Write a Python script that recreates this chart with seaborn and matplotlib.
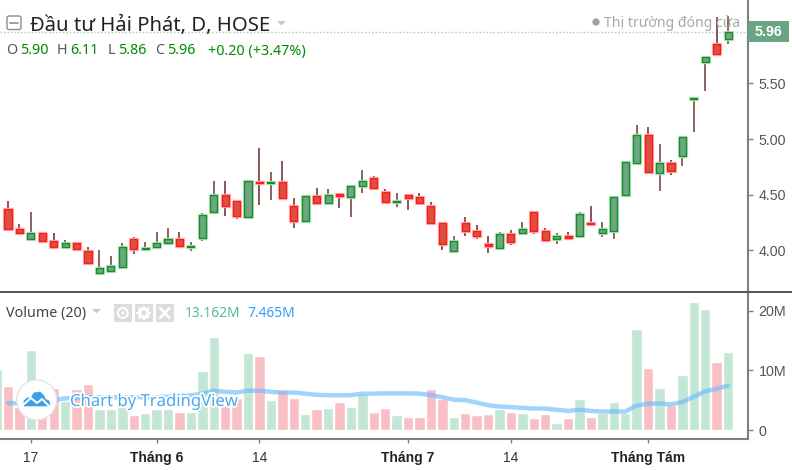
import numpy as np
import pandas as pd
import matplotlib
matplotlib.use("Agg")
import matplotlib.pyplot as plt
import matplotlib.patheffects as pe
from matplotlib.patches import Rectangle, Circle, FancyBboxPatch, Polygon
import seaborn as sns

# daily candles
OPENS = [4.37, 4.19, 4.10, 4.15, 4.08, 4.03, 4.06, 3.99, 3.79, 3.81, 3.85, 4.10, 4.01, 4.03, 4.06, 4.10,
         4.03, 4.11, 4.34, 4.50, 4.44, 4.30, 4.615, 4.60, 4.61, 4.40, 4.26, 4.49, 4.42, 4.505, 4.48, 4.58,
         4.65, 4.525, 4.43, 4.50, 4.48, 4.40, 4.24, 3.99, 4.24, 4.17, 4.05, 4.02, 4.14, 4.15, 4.34, 4.17,
         4.10, 4.13, 4.13, 4.24, 4.15, 4.17, 4.50, 4.78, 5.04, 4.69, 4.78, 4.85, 5.36, 5.69, 5.86, 5.90]
HIGHS = [4.44, 4.23, 4.34, 4.16, 4.15, 4.09, 4.07, 4.03, 4.00, 3.95, 4.06, 4.12, 4.07, 4.16, 4.20, 4.16,
         4.07, 4.33, 4.62, 4.62, 4.44, 4.62, 4.92, 4.70, 4.80, 4.47, 4.49, 4.56, 4.55, 4.505, 4.58, 4.72,
         4.67, 4.55, 4.51, 4.50, 4.51, 4.43, 4.25, 4.13, 4.30, 4.225, 4.13, 4.16, 4.18, 4.25, 4.34, 4.20,
         4.15, 4.16, 4.34, 4.396, 4.25, 4.486, 4.80, 5.126, 5.108, 4.955, 4.81, 5.027, 5.375, 5.74, 6.096, 6.11]
LOWS = [4.19, 4.14, 4.10, 4.08, 4.02, 4.02, 3.99, 3.87, 3.78, 3.81, 3.85, 3.96, 3.99, 4.02, 4.06, 4.03,
        3.99, 4.08, 4.34, 4.31, 4.28, 4.30, 4.41, 4.45, 4.47, 4.20, 4.26, 4.41, 4.42, 4.38, 4.30, 4.51,
        4.555, 4.435, 4.39, 4.36, 4.42, 4.24, 4.00, 3.99, 4.13, 4.10, 3.975, 4.02, 4.045, 4.15, 4.14, 4.085,
        4.057, 4.10, 4.13, 4.23, 4.114, 4.10, 4.50, 4.78, 4.70, 4.53, 4.68, 4.754, 5.06, 5.43, 5.766, 5.86]
CLOSES = [4.19, 4.15, 4.15, 4.08, 4.03, 4.06, 4.01, 3.88, 3.84, 3.86, 4.03, 4.01, 4.02, 4.06, 4.10, 4.04,
          4.04, 4.32, 4.50, 4.40, 4.31, 4.62, 4.60, 4.61, 4.47, 4.26, 4.49, 4.42, 4.50, 4.49, 4.58, 4.62,
          4.555, 4.435, 4.44, 4.465, 4.42, 4.24, 4.05, 4.08, 4.17, 4.13, 4.04, 4.14, 4.075, 4.185, 4.174, 4.09,
          4.13, 4.105, 4.324, 4.23, 4.186, 4.48, 4.796, 5.04, 4.70, 4.784, 4.71, 5.02, 5.372, 5.74, 5.766, 5.96]

# volume in millions, the first bar belongs to a candle just off the left edge
VOLUMES = [10.2, 7.3, 3.8, 13.35, 5.5, 7.0, 4.9, 6.8, 7.65, 3.6, 3.5, 3.9, 2.6, 2.85, 3.6, 3.6, 3.0, 3.0,
           9.95, 15.6, 5.5, 5.3, 12.9, 12.5, 5.0, 6.65, 5.4, 2.7, 3.5, 3.7, 4.75, 3.9, 6.0, 3.1, 3.7, 2.45,
           2.25, 2.25, 6.9, 5.15, 2.25, 2.85, 2.45, 2.7, 3.5, 3.1, 2.85, 2.0, 2.7, 1.15, 2.0, 5.15, 2.25,
           2.85, 4.7, 2.85, 16.9, 10.4, 7.05, 4.2, 9.3, 21.5, 20.3, 11.45, 13.162]
VOLUME_MA = [4.5, 4.5, 4.6, 4.8, 5.0, 5.3, 5.4, 5.5, 5.5, 5.5, 5.5, 5.5, 5.5, 5.5, 5.6, 5.7, 5.8, 6.1, 6.6,
             6.4, 6.3, 6.6, 6.6, 6.4, 6.3, 6.3, 6.1, 5.9, 5.85, 5.85, 5.85, 6.1, 6.1, 6.15, 6.15, 6.15, 6.1,
             5.85, 5.5, 5.1, 5.0, 4.6, 4.15, 3.95, 3.85, 3.7, 3.6, 3.6, 3.4, 3.2, 3.4, 3.2, 3.1, 3.1, 3.1,
             4.1, 4.4, 4.45, 4.3, 4.7, 5.6, 6.5, 6.9, 7.465]

PRICE_TICKS = [4.0, 4.5, 5.0, 5.5]
VOLUME_TICKS = [0, 10, 20]
VOLUME_LABELS = ["0", "10M", "20M"]
DATE_TICKS = [3, 14, 23, 36, 45, 57]
DATE_LABELS = ["17", "Tháng 6", "14", "Tháng 7", "14", "Tháng Tám"]
BOLD_DATES = ["Tháng 6", "Tháng 7", "Tháng Tám"]

W, H = 792, 470
GREY = "#555555"
AXIS = "#808080"
UP = "#008a00"
LABEL_FONT = "Liberation Sans"
TEXT_FONT = "Noto Sans"

sns.set_theme(style="white")
plt.rcParams["font.family"] = ["Noto Sans", "DejaVu Sans"]

fig = plt.figure(figsize=(W / 100, H / 100), dpi=100, facecolor="white")


def pane(top, bottom):
    return fig.add_axes([0, 1 - bottom / H, 748 / W, (bottom - top) / H])


ax = pane(0, 291)
ax_vol = pane(293, 439)
for a in (ax, ax_vol):
    a.set_xlim(0.3, 65.74)
    a.yaxis.tick_right()
    a.set_xlabel("")
    a.set_ylabel("")
    for side in ("top", "left"):
        a.spines[side].set_visible(False)
    a.spines["right"].set_color(AXIS)
    a.spines["right"].set_linewidth(1.5)

# --- candles
idx = np.arange(1, len(OPENS) + 1)
opens = np.array(OPENS)
closes = np.array(CLOSES)
is_up = closes >= opens
bottoms = np.minimum(opens, closes)
heights = np.abs(closes - opens)

for mask, face, edge, halo, wick in [
    (is_up, "#6ea685", "#14901f", "#c6e6ce", "#6e3b36"),
    (~is_up, "#dc5040", "#ff1a1a", "#ffbcc0", "#6e2626"),
]:
    ax.vlines(idx[mask], np.array(LOWS)[mask], np.array(HIGHS)[mask], color=wick, lw=1.1, zorder=2)
    ax.bar(idx[mask], heights[mask], bottom=bottoms[mask], width=0.62, color=face,
           edgecolor=halo, linewidth=2.4, zorder=3)
    ax.bar(idx[mask], heights[mask], bottom=bottoms[mask], width=0.62, color=face,
           edgecolor=edge, linewidth=1.0, zorder=4)

ax.set_ylim(3.631, 6.252)
ax.set_yticks(PRICE_TICKS)
ax.set_yticklabels([f"{t:.2f}" for t in PRICE_TICKS])
ax.set_xticks([])
ax.spines["bottom"].set_visible(False)
ax.axhline(CLOSES[-1], color="#a5cbb5", lw=1, ls=(0, (1, 1.5)), zorder=1)

# --- volume
df_vol = pd.DataFrame({
    "dia": np.arange(0, len(VOLUMES)),
    "volume": VOLUMES,
    "huong": ["up"] + ["up" if u else "down" for u in is_up],
})
sns.barplot(data=df_vol, x="dia", y="volume", hue="huong", palette={"up": "#c3e6d5", "down": "#f8c0c5"},
            native_scale=True, dodge=False, width=0.91, saturation=1, legend=False, ax=ax_vol, zorder=2)
df_ma = pd.DataFrame({"dia": idx, "ma": VOLUME_MA})
sns.lineplot(data=df_ma, x="dia", y="ma", color="#6fbcfb", alpha=0.65, lw=3.2, ax=ax_vol, zorder=3)

ax_vol.set_xlim(0.3, 65.74)
ax_vol.set_ylim(-1.51, 22.99)
ax_vol.set_xlabel("")
ax_vol.set_ylabel("")
ax_vol.set_yticks(VOLUME_TICKS)
ax_vol.set_yticklabels(VOLUME_LABELS)
ax_vol.set_xticks(DATE_TICKS)
ax_vol.set_xticklabels(DATE_LABELS)
ax_vol.spines["bottom"].set_color(AXIS)
ax_vol.spines["bottom"].set_linewidth(1.5)

for a in (ax, ax_vol):
    a.tick_params(axis="y", which="major", right=True, length=3.5, width=1, color=AXIS, pad=4,
                  labelsize=10.3, labelcolor=GREY, labelfontfamily=LABEL_FONT)
ax_vol.tick_params(axis="x", bottom=True, length=3, width=1, color=AXIS, pad=5.5, labelsize=10,
                   labelcolor="#333333", labelfontfamily=LABEL_FONT)
for lab in ax_vol.get_xticklabels():
    if lab.get_text() in BOLD_DATES:
        lab.set_fontweight("bold")
        lab.set_color("#222222")

# --- overlay in screen pixels: header, last price box, watermark
ov = fig.add_axes([0, 0, 1, 1], zorder=10)
ov.set_xlim(0, W)
ov.set_ylim(H, 0)
ov.axis("off")
ov.patch.set_alpha(0)

# separator between panes
ov.plot([0, 792], [292, 292], color="#555555", lw=1.4)

# header
ov.add_patch(FancyBboxPatch((7, 16), 14, 13.5, boxstyle="round,pad=0,rounding_size=2",
                            fc="white", ec="#8c8c8c", lw=1))
ov.plot([10, 18], [23, 23], color="#8c8c8c", lw=1.2)
ov.text(30, 25.5, "Đầu tư Hải Phát, D, HOSE", fontsize=14.6, color="#222222", va="center", family=TEXT_FONT)
ov.add_patch(Polygon([(277, 21), (286, 21), (281.5, 25.5)], fc="#c8c8c8", ec="none"))

for x, s, c in [(6, "O", GREY), (20.5, "5.90", UP), (57, "H", GREY), (70.5, "6.11", UP),
                (107.5, "L", GREY), (118.5, "5.86", UP), (155, "C", GREY), (167.5, "5.96", UP),
                (208, "+0.20 (+3.47%)", UP)]:
    ov.text(x, 51, s, fontsize=10.3, color=c, va="center", family=TEXT_FONT)

# market closed note, sits under the candles
ov.add_patch(Circle((596, 22), 3.6, fc="#a0a0a0", ec="none"))
ov.text(604, 23.5, "Thị trường đóng cửa", fontsize=10.1, color="#a8a8a8", va="center", family=TEXT_FONT)

# last price box
ov.add_patch(Rectangle((748, 21), 41, 21, fc="#6aa583", ec="none"))
ov.text(768.5, 31.5, "5.96", fontsize=10.3, color="white", fontweight="bold", ha="center", va="center",
        family=LABEL_FONT)

# volume header
ov.text(6, 313.5, "Volume (20)", fontsize=10.3, color="#444444", va="center", family=TEXT_FONT)
ov.add_patch(Polygon([(92, 309), (101, 309), (96.5, 313.5)], fc="#c8c8c8", ec="none"))
for x in (114, 135, 156):
    ov.add_patch(Rectangle((x, 304), 17.5, 18, fc="#dcdcdc", ec="none"))
ov.add_patch(Circle((122.8, 313), 5, fc="none", ec="white", lw=1.5))
ov.add_patch(Circle((122.8, 313), 1.6, fc="white", ec="none"))
ov.add_patch(Circle((143.8, 313), 4.2, fc="none", ec="white", lw=2.4))
for ang in np.arange(0, 360, 45):
    dx, dy = np.cos(np.radians(ang)), np.sin(np.radians(ang))
    ov.plot([143.8 + 4.5 * dx, 143.8 + 6.5 * dx], [313 + 4.5 * dy, 313 + 6.5 * dy], color="white", lw=1.6)
ov.plot([160, 169.5], [308, 318], color="white", lw=1.8)
ov.plot([169.5, 160], [308, 318], color="white", lw=1.8)
ov.text(184.7, 313.5, "13.162M", fontsize=9.9, color="#58bb8e", va="center", family=TEXT_FONT)
ov.text(247, 313.5, "7.465M", fontsize=9.9, color="#2f9ffa", va="center", family=TEXT_FONT)

# watermark
ov.add_patch(Circle((36.7, 400), 20, fc="white", ec="#e4e4e4", lw=1))
cloud = "#3d9fe6"
ov.add_patch(Polygon([(24, 406), (24, 401), (27, 398), (31, 398), (34, 393), (40, 392), (44, 396),
                      (45, 399), (49, 401), (50, 406)], fc=cloud, ec=cloud, lw=0.5))
ov.plot([23, 31, 37, 42, 50], [405, 398, 403, 399, 407], color="white", lw=1.4)
ov.text(70, 402, "Chart by TradingView", fontsize=12, color="#4aa8ee", va="center", family=TEXT_FONT,
        path_effects=[pe.withStroke(linewidth=2.5, foreground="white")])

fig.savefig("out.png", dpi=100)
